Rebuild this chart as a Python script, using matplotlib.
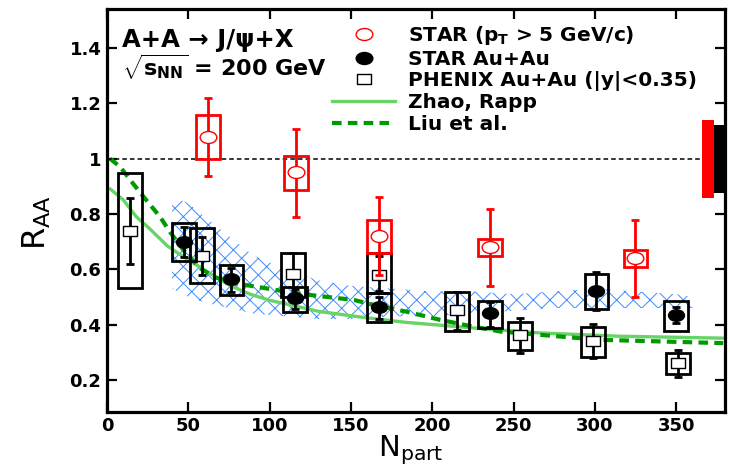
import numpy as np
import matplotlib
matplotlib.use("Agg")
import matplotlib.pyplot as plt
from matplotlib.path import Path
from matplotlib.lines import Line2D

plt.rcParams["font.family"] = ["DejaVu Sans"]
plt.rcParams["font.weight"] = "bold"
plt.rcParams["mathtext.fontset"] = "custom"
plt.rcParams["mathtext.rm"] = "DejaVu Sans:bold"
plt.rcParams["mathtext.it"] = "DejaVu Sans:bold"
plt.rcParams["mathtext.bf"] = "DejaVu Sans:bold"
plt.rcParams["mathtext.sf"] = "DejaVu Sans:bold"
plt.rcParams["hatch.linewidth"] = 0.7

# STAR high-pT J/psi (open red)
star_hpt_npart = [62, 116, 167.5, 235.5, 325]
star_hpt_raa = [1.08, 0.95, 0.72, 0.68, 0.64]
star_hpt_err_hi = [1.22, 1.108, 0.861, 0.818, 0.779]
star_hpt_err_lo = [0.938, 0.788, 0.58, 0.54, 0.50]
star_hpt_sys_hi = [1.158, 1.01, 0.779, 0.709, 0.669]
star_hpt_sys_lo = [0.998, 0.887, 0.66, 0.648, 0.608]

# STAR Au+Au (filled black)
star_npart = [47.4, 76.5, 115.6, 167.5, 235.5, 301, 350]
star_raa = [0.70, 0.564, 0.495, 0.465, 0.441, 0.523, 0.435]
star_err_hi = [0.754, 0.604, 0.53, 0.50, 0.483, 0.592, 0.465]
star_err_lo = [0.644, 0.519, 0.455, 0.42, 0.393, 0.453, 0.405]
star_sys_hi = [0.767, 0.616, 0.537, 0.514, 0.487, 0.583, 0.487]
star_sys_lo = [0.631, 0.507, 0.447, 0.411, 0.387, 0.456, 0.378]

# PHENIX Au+Au |y|<0.35 (open squares)
phenix_npart = [14.1, 58.3, 114.6, 167.5, 215.3, 254, 299, 351.3]
phenix_raa = [0.74, 0.648, 0.582, 0.58, 0.452, 0.362, 0.339, 0.263]
phenix_err_hi = [0.859, 0.718, 0.66, 0.648, 0.519, 0.423, 0.403, 0.309]
phenix_err_lo = [0.62, 0.58, 0.50, 0.52, 0.38, 0.297, 0.278, 0.21]
phenix_sys_hi = [0.948, 0.749, 0.66, 0.658, 0.519, 0.411, 0.39, 0.299]
phenix_sys_lo = [0.532, 0.55, 0.50, 0.514, 0.378, 0.309, 0.282, 0.22]

# model curves
zhao_npart = [2, 10, 18, 26, 37, 47, 57, 67, 76, 88, 100, 115, 130, 155, 184, 225, 266, 315, 379]
zhao_raa = [0.89, 0.851, 0.79, 0.748, 0.685, 0.645, 0.608, 0.572, 0.54, 0.51, 0.488, 0.468,
            0.448, 0.428, 0.408, 0.388, 0.37, 0.358, 0.351]
liu_npart = [1.8, 8, 16, 24, 32.6, 38.7, 47, 57, 66, 78, 94, 104, 125, 143, 152, 164, 184,
             205, 225, 242, 254, 303, 316, 379]
liu_raa = [1.0, 0.971, 0.91, 0.851, 0.79, 0.735, 0.67, 0.605, 0.572, 0.55, 0.535, 0.525,
           0.507, 0.495, 0.489, 0.471, 0.447, 0.417, 0.393, 0.375, 0.369, 0.345, 0.343, 0.333]

# hatched band
band_npart = [40, 50, 60, 75, 90, 110, 130, 150, 175, 200, 225, 250, 275, 300, 325, 350, 360]
band_hi = [0.86, 0.84, 0.79, 0.72, 0.65, 0.60, 0.56, 0.54, 0.53, 0.52, 0.52, 0.51, 0.52,
           0.53, 0.52, 0.51, 0.50]
band_lo = [0.53, 0.50, 0.48, 0.46, 0.44, 0.43, 0.42, 0.42, 0.43, 0.43, 0.44, 0.45, 0.46,
           0.46, 0.46, 0.46, 0.46]

# global normalisation uncertainties at unity
norm_npart = [369.5, 376.5]
norm_hi = [1.138, 1.12]
norm_lo = [0.859, 0.877]
norm_colors = ["red", "black"]

circ = Path.unit_circle()
ellipse = Path(circ.vertices * np.array([1.0, 0.72]), circ.codes)
rect = Path(
    [(-1, -0.68), (1, -0.68), (1, 0.68), (-1, 0.68), (-1, -0.68)],
    [Path.MOVETO, Path.LINETO, Path.LINETO, Path.LINETO, Path.CLOSEPOLY],
)

fg = plt.figure(figsize=(7.3, 4.76), dpi=100)
ax = fg.add_axes([0.1466, 0.135, 0.8464, 0.8455])

ax.fill_between(band_npart, band_lo, band_hi, facecolor="none", edgecolor="#3d8bff",
                linewidth=0, hatch="xx", zorder=1)
ax.plot(zhao_npart, zhao_raa, color="#66d466", lw=2.4, zorder=2)
ax.plot(liu_npart, liu_raa, color="#009a00", lw=3, dashes=(2.3, 1.5), zorder=2)

ax.plot([0, 366], [1, 1], color="black", lw=1.1, dashes=(3, 2), zorder=2)
ax.bar(norm_npart, np.array(norm_hi) - np.array(norm_lo), bottom=norm_lo, width=7,
       color=norm_colors, zorder=3)


def draw_set(npart, raa, elo, ehi, slo, shi, color, marker, face, msize, z):
    npart = np.array(npart)
    raa = np.array(raa)
    ax.bar(npart, np.array(shi) - np.array(slo), bottom=slo, width=14.6, fill=False,
           edgecolor=color, linewidth=2.0, zorder=z)
    ax.errorbar(npart, raa, yerr=[raa - np.array(elo), np.array(ehi) - raa], fmt="none",
                ecolor=color, elinewidth=2.0, capsize=3, capthick=2.0, zorder=z + 0.1)
    ax.plot(npart, raa, linestyle="", marker=marker, ms=msize, mfc=face, mec=color,
            mew=1.0, zorder=z + 0.2)


draw_set(phenix_npart, phenix_raa, phenix_err_lo, phenix_err_hi, phenix_sys_lo,
         phenix_sys_hi, "black", rect, "white", 10.5, 4)
draw_set(star_npart, star_raa, star_err_lo, star_err_hi, star_sys_lo, star_sys_hi,
         "black", ellipse, "black", 11.5, 5)
draw_set(star_hpt_npart, star_hpt_raa, star_hpt_err_lo, star_hpt_err_hi, star_hpt_sys_lo,
         star_hpt_sys_hi, "red", ellipse, "white", 12, 6)

ax.set_xlim(0, 380)
ax.set_ylim(0.085, 1.54)
ax.set_xticks(np.arange(0, 351, 50))
ax.set_yticks([0.2, 0.4, 0.6, 0.8, 1.0, 1.2, 1.4])
ax.set_yticklabels(["0.2", "0.4", "0.6", "0.8", "1", "1.2", "1.4"])
ax.tick_params(axis="both", which="major", direction="in", top=True, right=True,
               length=7.5, width=1.6, labelsize=13, pad=4)
for sp in ax.spines.values():
    sp.set_linewidth(2.3)

ax.set_xlabel(r"$\mathregular{N_{part}}$", fontsize=21)
ax.xaxis.set_label_coords(0.492, -0.055)
ax.set_ylabel(r"$\mathregular{R_{AA}}$", fontsize=23)
ax.yaxis.set_label_coords(-0.088, 0.47)

ax.text(0.025, 0.907, "A+A \u2192 J/\u03c8+X", transform=ax.transAxes, fontsize=17.5,
        fontweight="bold", va="baseline")
ax.text(0.025, 0.834, r"$\sqrt{s_{NN}}$ = 200 GeV", transform=ax.transAxes, fontsize=16,
        fontweight="bold", va="baseline")

handles = [
    Line2D([], [], linestyle="", marker=ellipse, ms=12, mfc="white", mec="red", mew=1.0),
    Line2D([], [], linestyle="", marker=ellipse, ms=12, mfc="black", mec="black"),
    Line2D([], [], linestyle="", marker=rect, ms=10.5, mfc="white", mec="black", mew=1.0),
    Line2D([], [], color="#66d466", lw=2.4),
    Line2D([], [], color="#009a00", lw=3, dashes=(2.3, 1.5)),
]
labels = [
    r"STAR ($p_T$ > 5 GeV/c)",
    "STAR Au+Au",
    "PHENIX Au+Au (|y|<0.35)",
    "Zhao, Rapp",
    "Liu et al.",
]
ax.legend(handles, labels, loc="upper left", bbox_to_anchor=(0.364, 0.963), frameon=False,
          fontsize=14.5, handlelength=3.15, handletextpad=0.62, labelspacing=0.12,
          borderpad=0, borderaxespad=0)

fg.savefig("out.png", dpi=100)
plt.close(fg)
